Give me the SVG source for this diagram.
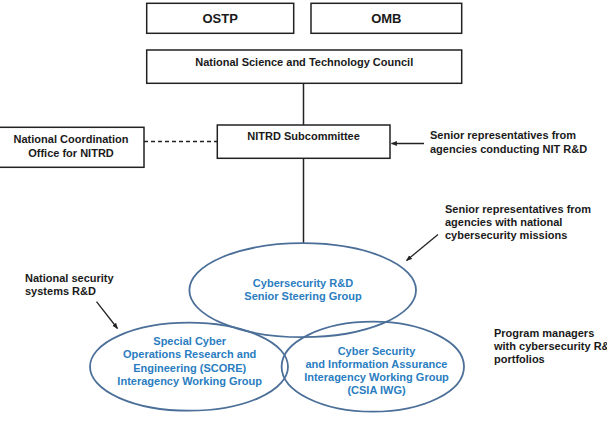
<svg xmlns="http://www.w3.org/2000/svg" width="607" height="432" viewBox="0 0 607 432">
<style>
.box{fill:#fff;stroke:#222;stroke-width:1.5}
.t{font-family:"Liberation Sans",Arial,sans-serif;font-weight:bold;font-size:11px;fill:#1a1a1a}
.big{font-size:13px}
.c{text-anchor:middle}
.ell{fill:none;stroke:#4b6f98;stroke-width:1.8}
.bt{font-family:"Liberation Sans",Arial,sans-serif;font-weight:bold;font-size:11px;fill:#2a7dc1;text-anchor:middle}
.ln{stroke:#222;stroke-width:1.5;fill:none}
.ar{stroke:#222;stroke-width:1.3;fill:none;marker-end:url(#ah)}
</style>
<defs>
<marker id="ah" viewBox="0 0 10 10" refX="9" refY="5" markerWidth="6" markerHeight="6" orient="auto" markerUnits="userSpaceOnUse">
<path d="M0,1 L10,5 L0,9 z" fill="#222"/>
</marker>
</defs>
<rect width="607" height="432" fill="#fff"/>
<g id="connectors">
<line class="ln" x1="303.5" y1="83.3" x2="303.5" y2="125"/>
<line class="ln" x1="303.5" y1="158.3" x2="303.5" y2="243.3"/>
<line class="ln" x1="144" y1="141.5" x2="217.3" y2="141.5" stroke-dasharray="4,3"/>
<line class="ar" x1="424" y1="143.5" x2="391.5" y2="143.5"/>
<line class="ar" x1="438" y1="234.5" x2="406.5" y2="260.5"/>
<line class="ar" x1="96.5" y1="301.7" x2="117.5" y2="328.5"/>
</g>
<g id="ostp">
<rect class="box" x="146.7" y="3.3" width="147" height="30"/>
<text class="t big c" x="220.2" y="23">OSTP</text>
</g>
<g id="omb">
<rect class="box" x="311" y="3.3" width="150.7" height="30"/>
<text class="t big c" x="386.3" y="23">OMB</text>
</g>
<g id="nstc">
<rect class="box" x="146.7" y="50" width="315" height="33.3"/>
<text class="t c" x="304.2" y="65.8">National Science and Technology Council</text>
</g>
<g id="nitrd">
<rect class="box" x="217.3" y="125" width="172.7" height="33.3"/>
<text class="t c" x="303.6" y="139.5">NITRD Subcommittee</text>
</g>
<g id="nco">
<rect class="box" x="-1" y="127.3" width="145" height="40"/>
<text class="t c" x="71" y="143.3">National Coordination</text>
<text class="t c" x="71" y="156.8">Office for NITRD</text>
</g>
<g id="note-nitrd">
<text class="t" x="430" y="139">Senior representatives from</text>
<text class="t" x="430" y="153">agencies conducting NIT R&amp;D</text>
</g>
<g id="note-ssg">
<text class="t" x="445" y="212.7">Senior representatives from</text>
<text class="t" x="445" y="226">agencies with national</text>
<text class="t" x="445" y="239.3">cybersecurity missions</text>
</g>
<g id="note-nss">
<text class="t" x="25" y="281.7">National security</text>
<text class="t" x="25" y="295">systems R&amp;D</text>
</g>
<g id="note-pm">
<text class="t" x="494" y="336.7">Program managers</text>
<text class="t" x="494" y="350">with cybersecurity R&amp;D</text>
<text class="t" x="494" y="363.3">portfolios</text>
</g>
<g id="ssg">
<ellipse class="ell" cx="302.7" cy="290.2" rx="113.3" ry="47"/>
<text class="bt" x="303" y="286.7">Cybersecurity R&amp;D</text>
<text class="bt" x="303" y="300">Senior Steering Group</text>
</g>
<g id="score">
<ellipse class="ell" cx="189" cy="366.7" rx="99" ry="44"/>
<text class="bt" x="189.7" y="345">Special Cyber</text>
<text class="bt" x="189.7" y="358.3">Operations Research and</text>
<text class="bt" x="189.7" y="371.7">Engineering (SCORE)</text>
<text class="bt" x="189.7" y="385">Interagency Working Group</text>
</g>
<g id="csia">
<ellipse class="ell" cx="372.8" cy="366.7" rx="91.2" ry="45"/>
<text class="bt" x="376.5" y="354.5">Cyber Security</text>
<text class="bt" x="376.5" y="367.6">and Information Assurance</text>
<text class="bt" x="376.5" y="381">Interagency Working Group</text>
<text class="bt" x="376.5" y="394.3">(CSIA IWG)</text>
</g>
</svg>
